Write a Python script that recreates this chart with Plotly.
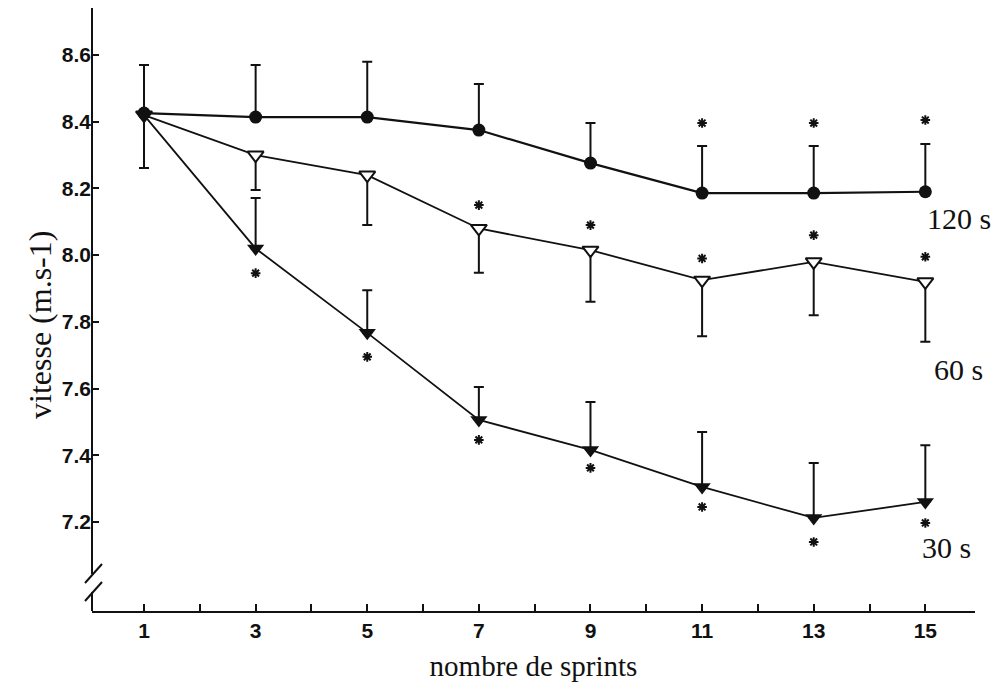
import plotly.graph_objects as go

sprints = [1, 3, 5, 7, 9, 11, 13, 15]

v120 = [8.426, 8.414, 8.414, 8.375, 8.276, 8.186, 8.186, 8.19]
v120_upper = [8.57, 8.57, 8.58, 8.513, 8.396, 8.327, 8.327, 8.333]
v120_lower = [8.261, 8.414, 8.414, 8.375, 8.276, 8.186, 8.186, 8.19]

v60 = [8.42, 8.30, 8.24, 8.08, 8.015, 7.925, 7.98, 7.92]
v60_lower = [8.42, 8.195, 8.09, 7.947, 7.86, 7.757, 7.82, 7.74]

v30 = [8.42, 8.02, 7.767, 7.506, 7.416, 7.305, 7.212, 7.26]
v30_upper = [8.42, 8.171, 7.895, 7.605, 7.56, 7.47, 7.377, 7.43]

star120_x = [11, 13, 15]
star120_y = [8.396, 8.396, 8.405]
star60_x = [7, 9, 11, 13, 15]
star60_y = [8.15, 8.09, 7.99, 8.06, 7.995]
star30_x = [3, 5, 7, 9, 11, 13, 15]
star30_y = [7.946, 7.695, 7.446, 7.362, 7.245, 7.14, 7.197]

series_labels = ["120 s", "60 s", "30 s"]
label_x = [15.0, 15.12, 14.91]
label_y = [8.111, 7.656, 7.122]

y_ticks = [7.2, 7.4, 7.6, 7.8, 8.0, 8.2, 8.4, 8.6]
x_ticks = list(range(1, 16))
x_ticktext = [str(v) if v % 2 == 1 else "" for v in x_ticks]

INK = "#111111"

fig = go.Figure()

# 120 s
fig.add_trace(go.Scatter(
    x=sprints, y=v120, mode="lines+markers",
    line=dict(color=INK, width=2.2),
    marker=dict(symbol="circle", size=13, color=INK),
    error_y=dict(type="data", symmetric=False,
                 array=[u - v for u, v in zip(v120_upper, v120)],
                 arrayminus=[v - l for l, v in zip(v120_lower, v120)],
                 color=INK, thickness=2, width=5),
    showlegend=False))

# 60 s
fig.add_trace(go.Scatter(
    x=sprints, y=v60, mode="lines+markers",
    line=dict(color=INK, width=1.8),
    marker=dict(symbol="triangle-down", size=14, color="white",
                line=dict(color=INK, width=2)),
    error_y=dict(type="data", symmetric=False,
                 array=[0] * len(v60),
                 arrayminus=[v - l for l, v in zip(v60_lower, v60)],
                 color=INK, thickness=2, width=5),
    showlegend=False))

# 30 s
fig.add_trace(go.Scatter(
    x=sprints, y=v30, mode="lines+markers",
    line=dict(color=INK, width=1.8),
    marker=dict(symbol="triangle-down", size=15, color=INK),
    error_y=dict(type="data", symmetric=False,
                 array=[u - v for u, v in zip(v30_upper, v30)],
                 arrayminus=[0] * len(v30),
                 color=INK, thickness=2, width=5),
    showlegend=False))

# significance stars
for sx, sy in [(star120_x, star120_y), (star60_x, star60_y), (star30_x, star30_y)]:
    fig.add_trace(go.Scatter(
        x=sx, y=sy, mode="markers",
        marker=dict(symbol="asterisk-open", size=8, color=INK,
                    line=dict(color=INK, width=2)),
        showlegend=False))

# series labels
for t, lx, ly in zip(series_labels, label_x, label_y):
    fig.add_annotation(x=lx, y=ly, text=t, showarrow=False, xanchor="left",
                       yanchor="middle",
                       font=dict(family="Liberation Serif", size=30, color=INK))

# page offset (browser body margin) and plot area in page pixels
OFF = 8
FW, FH = 1000 - OFF, 693 - OFF
L, R, T, B = 92, 975, 8, 611
W, H = R - L, B - T
def px(x):
    return (x - L) / W
def py(y):
    return (B - y) / H

# y-axis title as rotated text
fig.add_annotation(xref="paper", yref="paper", x=px(40), y=py(325),
                   text="vitesse (m.s-1)", textangle=-90, showarrow=False,
                   xanchor="center", yanchor="middle",
                   font=dict(family="Liberation Serif", size=32, color=INK))

shapes = [
    dict(type="line", xref="paper", yref="paper", x0=0, x1=0, y0=py(T), y1=py(574),
         line=dict(color=INK, width=2)),
    dict(type="line", xref="paper", yref="paper", x0=0, x1=0, y0=py(592), y1=py(B),
         line=dict(color=INK, width=2)),
    dict(type="line", xref="paper", yref="paper", x0=px(85), x1=px(102), y0=py(583), y1=py(564),
         line=dict(color=INK, width=2)),
    dict(type="line", xref="paper", yref="paper", x0=px(85), x1=px(102), y0=py(601), y1=py(582),
         line=dict(color=INK, width=2)),
]

fig.update_layout(
    width=FW, height=FH,
    margin=dict(l=L - OFF, r=FW - (R - OFF), t=T - OFF, b=FH - (B - OFF), autoexpand=False),
    paper_bgcolor="white", plot_bgcolor="white",
    shapes=shapes,
    xaxis=dict(range=[0.068, 15.89], tickvals=x_ticks, ticktext=x_ticktext,
               ticks="inside", ticklen=7, tickwidth=2, tickcolor=INK,
               showline=True, linewidth=2, linecolor=INK, showgrid=False,
               zeroline=False, automargin=False,
               tickfont=dict(family="Liberation Sans", size=21, color=INK, weight="bold"),
               title=dict(text="nombre de sprints", standoff=14,
                          font=dict(family="Liberation Serif", size=29, color=INK))),
    yaxis=dict(range=[6.933, 8.741], tickvals=y_ticks,
               ticktext=[f"{v:.1f}" for v in y_ticks],
               ticks="inside", ticklen=7, tickwidth=2, tickcolor=INK,
               showline=False, showgrid=False, zeroline=False, automargin=False,
               tickfont=dict(family="Liberation Sans", size=21, color=INK, weight="bold")),
)

fig.write_html("out.html")
